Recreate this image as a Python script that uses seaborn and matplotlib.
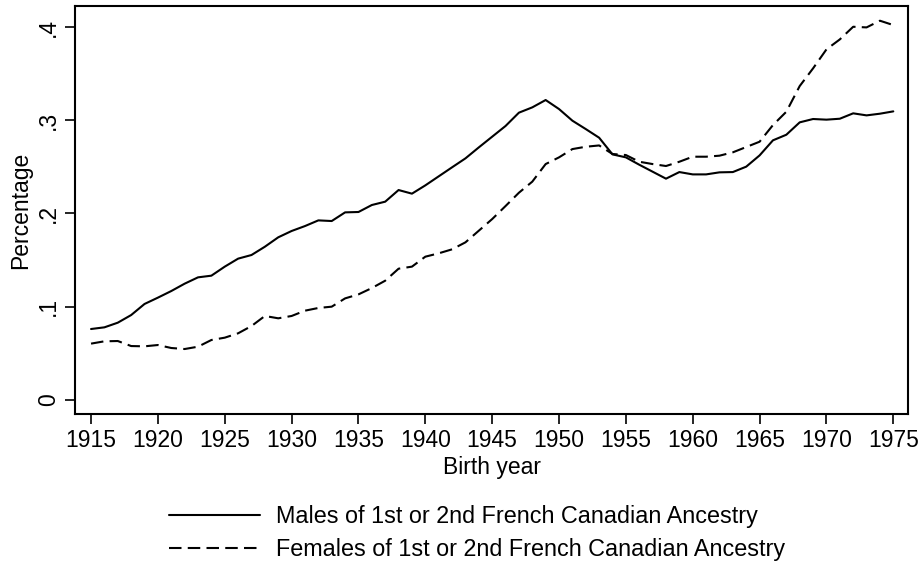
import numpy as np
import pandas as pd
import matplotlib
matplotlib.use("Agg")
import matplotlib.pyplot as plt
import seaborn as sns

years = list(range(1915, 1976))
males = [0.0759, 0.0777, 0.0827, 0.0909, 0.1028, 0.1096, 0.1167, 0.1246, 0.1314, 0.1332,
         0.1429, 0.1515, 0.1554, 0.1643, 0.1744, 0.1812, 0.1865, 0.1926, 0.1919, 0.2012,
         0.2016, 0.2091, 0.2127, 0.2252, 0.2213, 0.2302, 0.2399, 0.2496, 0.2592, 0.2710,
         0.2825, 0.2940, 0.3083, 0.3140, 0.3219, 0.3122, 0.2997, 0.2907, 0.2814, 0.2635,
         0.2603, 0.2524, 0.2449, 0.2374, 0.2445, 0.2420, 0.2420, 0.2442, 0.2445, 0.2503,
         0.2624, 0.2786, 0.2846, 0.2979, 0.3015, 0.3008, 0.3018, 0.3076, 0.3054, 0.3072,
         0.3097]
females = [0.0602, 0.0627, 0.0630, 0.0576, 0.0573, 0.0587, 0.0555, 0.0544, 0.0569, 0.0641,
           0.0666, 0.0713, 0.0791, 0.0899, 0.0874, 0.0899, 0.0956, 0.0985, 0.0999, 0.1088,
           0.1131, 0.1199, 0.1278, 0.1407, 0.1429, 0.1536, 0.1572, 0.1615, 0.1690, 0.1815,
           0.1940, 0.2080, 0.2223, 0.2342, 0.2531, 0.2603, 0.2692, 0.2717, 0.2731, 0.2639,
           0.2628, 0.2556, 0.2531, 0.2510, 0.2556, 0.2610, 0.2610, 0.2621, 0.2657, 0.2714,
           0.2771, 0.2950, 0.3093, 0.3369, 0.3559, 0.3763, 0.3870, 0.4006, 0.3999, 0.4071,
           0.4024]
series_labels = ["Males of 1st or 2nd French Canadian Ancestry",
                 "Females of 1st or 2nd French Canadian Ancestry"]
x_ticks = list(range(1915, 1976, 5))
y_ticks = [0, 0.1, 0.2, 0.3, 0.4]
y_ticklabels = ["0", ".1", ".2", ".3", ".4"]

df = pd.DataFrame({
    "year": years * 2,
    "value": males + females,
    "series": [series_labels[0]] * len(years) + [series_labels[1]] * len(years),
})

sns.set_style("white")
plt.rcParams["font.family"] = ["Liberation Sans", "DejaVu Sans"]
plt.rcParams["text.color"] = "black"
plt.rcParams["axes.labelcolor"] = "black"
plt.rcParams["xtick.color"] = "black"
plt.rcParams["ytick.color"] = "black"

fig = plt.figure(figsize=(9.22, 5.65), dpi=100)
ax = fig.add_axes([75 / 922, 1 - 414 / 565, (908 - 75) / 922, (414 - 6) / 565])

sns.lineplot(data=df, x="year", y="value", hue="series", style="series",
             palette={series_labels[0]: "black", series_labels[1]: "black"},
             dashes={series_labels[0]: "", series_labels[1]: (6, 3)},
             linewidth=1.5, ax=ax, legend=False)

ax.set_xlim(1913.8, 1976.1)
ax.set_ylim(-0.0154, 0.4229)
ax.set_xticks(x_ticks)
ax.set_xticklabels([str(t) for t in x_ticks], fontsize=16.5)
ax.set_yticks(y_ticks)
ax.set_yticklabels(y_ticklabels, fontsize=16.5, rotation=90, va="center")
ax.tick_params(axis="both", direction="out", length=7, width=1.2, color="black",
               labelcolor="black", bottom=True, left=True, pad=4)
ax.set_xlabel("Birth year", fontsize=16.5, labelpad=3, color="black")
ax.set_ylabel("Percentage", fontsize=16.5, labelpad=3, color="black")
for s in ax.spines.values():
    s.set_visible(True)
    s.set_color("black")
    s.set_linewidth(1.5)

from matplotlib.lines import Line2D
handles = [Line2D([], [], color="black", lw=1.5),
           Line2D([], [], color="black", lw=1.5, dashes=(6, 3))]
leg = fig.legend(handles, series_labels, loc="center", bbox_to_anchor=(477 / 922, 1 - 533 / 565),
                 frameon=False, fontsize=16.8, handlelength=3.9, handletextpad=0.7,
                 labelspacing=0.45)
for t in leg.get_texts():
    t.set_color("black")

fig.savefig("out.png", dpi=100)
